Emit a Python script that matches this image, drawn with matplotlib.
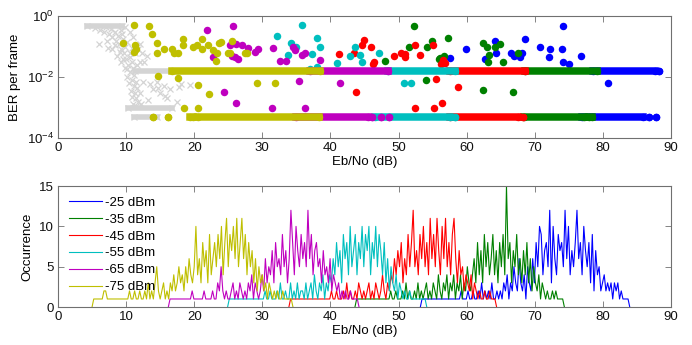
import matplotlib
matplotlib.use("Agg")
import matplotlib.pyplot as plt
from matplotlib.ticker import NullLocator
import numpy as np

plt.rcParams["font.family"] = ["Liberation Sans", "DejaVu Sans"]
plt.rcParams["mathtext.default"] = "regular"

# series, MATLAB colour order (-25 dBm first)
labels = ["-25 dBm", "-35 dBm", "-45 dBm", "-55 dBm", "-65 dBm", "-75 dBm"]
colors = ["#0000ff", "#008000", "#ff0000", "#00bfbf", "#bf00bf", "#bfbf00"]
gray = "#d4d4d4"

# ---------------- top panel: BER per frame ----------------
ber_hi = 0.0158   # upper dense row
ber_lo = 4.8e-4   # lower dense row

# dense rows of points, read as (start, end) in dB
hi_rows = [
    [(78.5, 87.6), (88.2, 88.2)],
    [(68.6, 79.1)],
    [(57.5, 68.6)],
    [(48.5, 58.3)],
    [(37.0, 48.4)],
    [(16.7, 38.5)],
]
lo_rows = [
    [(77.0, 85.9), (86.8, 86.8), (87.8, 87.8)],
    [(68.4, 77.3), (77.9, 78.4)],
    [(57.5, 67.5), (68.3, 68.3)],
    [(46.5, 57.6), (58.3, 58.3)],
    [(35.0, 45.5), (46.1, 46.1), (47.4, 47.4), (48.6, 48.6)],
    [(13.9, 13.9), (16.1, 16.1), (19.4, 19.8), (20.5, 38.3)],
]

# scattered frames (Eb/No, BER)
blue_pts = [(59.9, 0.081), (57.6, 0.043), (62.7, 0.038), (64.2, 0.155), (64.3, 0.063),
            (66.5, 0.063), (66.9, 0.049), (67.9, 0.047), (68.2, 0.063), (68.6, 0.176),
            (70.8, 0.099), (72.2, 0.081), (72.1, 0.047), (74.2, 0.47), (74.0, 0.081),
            (74.2, 0.03), (75.1, 0.026), (76.8, 0.05), (80.8, 0.0065)]
green_pts = [(52.3, 0.47), (51.6, 0.093), (54.9, 0.155), (54.2, 0.099), (57.3, 0.185),
             (56.7, 0.049), (56.0, 0.038), (56.1, 0.043), (48.0, 0.034), (54.0, 0.0081),
             (62.4, 0.0037), (62.4, 0.133), (63.0, 0.099), (64.2, 0.099), (64.9, 0.118),
             (63.3, 0.053), (63.2, 0.032), (65.3, 0.03), (67.6, 0.06), (66.8, 0.0032)]
red_pts = [(41.3, 0.055), (43.5, 0.063), (44.9, 0.16), (44.7, 0.11), (46.0, 0.099),
           (46.4, 0.032), (46.2, 0.027), (49.4, 0.05), (50.4, 0.063), (51.0, 0.055),
           (51.0, 0.047), (52.4, 0.11), (53.2, 0.053), (55.1, 0.11), (55.5, 0.0084),
           (58.7, 0.0046), (43.7, 0.0033), (52.4, 9.3e-4), (55.2, 9.3e-4), (56.4, 0.0014),
           (56.6, 0.036), (56.8, 0.028), (56.3, 0.027)]
cyan_pts = [(35.9, 0.5), (32.1, 0.22), (34.2, 0.127), (35.0, 0.099), (38.1, 0.185),
            (38.5, 0.093), (33.8, 0.053), (37.3, 0.055), (37.0, 0.019), (38.0, 0.022),
            (43.6, 0.093), (42.9, 0.05), (44.3, 0.053), (44.7, 0.03), (41.0, 0.028),
            (47.2, 0.06), (50.8, 0.0065), (51.8, 0.0065)]
magenta_pts = [(21.9, 0.35), (25.7, 0.48), (25.3, 0.11), (26.1, 0.12), (27.0, 0.11),
               (25.5, 0.05), (27.9, 0.09), (22.8, 0.047), (26.5, 0.038), (26.0, 0.047),
               (24.4, 0.0033), (26.2, 0.0014), (28.9, 0.068), (29.4, 0.08), (31.6, 0.087),
               (32.6, 0.034), (33.5, 0.034), (34.5, 0.099), (34.8, 0.077), (35.8, 0.053),
               (36.3, 0.06), (38.5, 0.036), (35.4, 0.0076), (41.4, 0.0065), (31.4, 9.3e-4),
               (36.2, 9.3e-4)]
olive_pts = [(9.6, 0.127), (11.1, 0.5), (11.2, 0.068), (11.3, 0.11), (11.5, 0.08),
             (13.4, 0.48), (13.8, 0.26), (14.5, 0.127), (14.5, 0.06), (14.7, 0.0108),
             (15.6, 0.08), (16.7, 0.08), (17.0, 0.06), (17.6, 0.063), (17.6, 0.0095),
             (18.3, 0.17), (18.3, 0.11), (18.5, 9.3e-4), (19.8, 0.093), (20.4, 0.11),
             (20.5, 9.3e-4), (20.6, 0.0055), (21.1, 0.17), (21.1, 0.08), (22.0, 0.11),
             (22.2, 0.0027), (22.8, 0.075), (23.2, 0.033), (23.3, 0.06), (23.7, 0.13),
             (24.0, 0.14), (24.9, 0.06), (25.3, 0.06), (25.6, 0.15), (27.4, 0.06),
             (27.7, 0.063), (29.2, 0.0065), (31.9, 0.0065)]
scatter_pts = [blue_pts, green_pts, red_pts, cyan_pts, magenta_pts, olive_pts]

# grey crosses (reference curve)
gray_rows = [(4.2, 9.4, 0.47), (11.3, 17.2, ber_hi), (10.3, 16.7, 9.3e-4), (11.1, 14.5, ber_lo)]
gray_pts = [(5.5, 0.4), (6.2, 0.35), (6.8, 0.3), (7.0, 0.42), (7.5, 0.25), (7.8, 0.38),
            (8.0, 0.2), (8.3, 0.3), (8.5, 0.15), (8.8, 0.22), (9.0, 0.12), (9.2, 0.35),
            (9.3, 0.08), (9.5, 0.18), (9.7, 0.06), (9.9, 0.1), (10.0, 0.04), (10.2, 0.14),
            (10.3, 0.025), (10.5, 0.06), (10.6, 0.015), (10.8, 0.03), (10.9, 0.008),
            (11.0, 0.02), (11.1, 0.005), (11.2, 0.012), (11.3, 0.003), (11.4, 0.007),
            (11.5, 0.002), (11.6, 0.0045), (11.7, 0.0015), (12.0, 0.003), (12.3, 0.06),
            (12.6, 0.03), (13.0, 0.05), (13.5, 0.006), (14.0, 0.004), (14.5, 0.007),
            (15.0, 0.003), (15.5, 0.005), (16.0, 0.002), (16.5, 0.004), (17.5, 0.0015),
            (18.0, 0.006), (6.0, 0.12), (7.2, 0.15), (8.0, 0.08), (8.7, 0.05), (9.3, 0.03),
            (9.8, 0.02), (10.2, 0.01), (10.7, 0.0035), (11.8, 0.08), (12.0, 0.12),
            (11.0, 0.2), (10.5, 0.3), (9.8, 0.45), (12.5, 0.007), (14.7, 0.0042),
            (15.7, 0.0023), (17.7, 0.0048), (19.4, 0.0055), (12.0, 0.032), (11.3, 0.06),
            (8.4, 0.11), (9.1, 0.065), (9.6, 0.04), (10.1, 0.018), (10.4, 0.0065),
            (10.8, 0.0022), (11.0, 0.0013), (11.5, 0.0011), (10.6, 0.045), (9.4, 0.25),
            (10.9, 0.09), (11.6, 0.025), (12.2, 0.0013), (13.2, 0.0018), (7.4, 0.09)]

# ---------------- bottom panel: occurrence histograms ----------------
step = 0.25  # dB per bin
starts = [53.2, 43.6, 33.9, 24.9, 16.2, 5.0]
occ_25 = [0, 1, 1, 1, 1, 1, 1, 1, 1, 1, 1, 1, 1, 1, 1, 1, 1, 1, 1, 1,
          1, 1, 1, 1, 2, 1, 1, 1, 2, 1, 1, 2, 1, 1, 2, 1, 3, 1, 2, 1,
          2, 1, 3, 1, 1, 2, 1, 2, 1, 3, 2, 4, 1, 3, 2, 5, 3, 2, 6, 3,
          2, 4, 1, 5, 3, 2, 6, 3, 8, 5, 10, 9, 4, 7, 8, 5, 12, 3, 10, 6,
          4, 9, 7, 8, 5, 12, 6, 10, 4, 7, 5, 8, 12, 6, 8, 4, 10, 7, 5, 8,
          3, 9, 2, 7, 4, 5, 2, 3, 4, 2, 3, 2, 3, 1, 3, 2, 3, 1, 2, 1,
          1, 1, 1, 0]
occ_35 = [0, 1, 1, 1, 1, 1, 1, 1, 1, 1, 1, 1, 1, 1, 1, 1, 1, 1, 1, 1,
          1, 2, 1, 1, 2, 1, 1, 1, 2, 1, 3, 1, 2, 1, 1, 2, 1, 3, 1, 2,
          1, 2, 3, 1, 2, 1, 3, 2, 1, 4, 2, 1, 3, 2, 4, 1, 3, 2, 4, 1,
          3, 2, 4, 1, 3, 2, 5, 3, 2, 4, 6, 3, 8, 4, 7, 3, 9, 5, 8, 4,
          6, 9, 4, 7, 3, 8, 5, 9, 4, 15, 6, 8, 3, 7, 5, 9, 4, 6, 3, 7,
          4, 8, 3, 6, 2, 5, 3, 2, 4, 1, 3, 2, 1, 2, 1, 1, 2, 1, 2, 1,
          1, 1, 1, 0]
occ_45 = [0, 1, 1, 1, 1, 1, 1, 1, 1, 1, 1, 1, 1, 1, 1, 1, 1, 1, 1, 1,
          1, 1, 1, 1, 1, 2, 1, 1, 2, 1, 1, 1, 2, 1, 3, 1, 2, 1, 1, 2,
          1, 3, 2, 1, 2, 1, 2, 3, 1, 2, 1, 3, 2, 1, 2, 4, 2, 1, 3, 2,
          4, 3, 6, 4, 7, 5, 8, 3, 6, 4, 9, 5, 8, 12, 5, 7, 4, 9, 6, 10,
          5, 8, 4, 11, 6, 9, 5, 11, 7, 4, 10, 6, 11, 5, 8, 4, 9, 11, 6, 3,
          7, 4, 5, 2, 4, 3, 2, 4, 1, 3, 2, 1, 2, 1, 1, 2, 1, 1, 2, 1,
          1, 1, 0]
occ_55 = [0, 1, 1, 1, 1, 1, 1, 1, 1, 1, 1, 1, 1, 1, 1, 1, 1, 1, 1, 1,
          1, 1, 2, 1, 1, 2, 1, 1, 1, 2, 1, 3, 1, 1, 2, 1, 1, 3, 1, 2,
          1, 3, 1, 2, 2, 1, 3, 1, 2, 3, 1, 4, 2, 1, 3, 2, 4, 1, 3, 2,
          4, 3, 6, 4, 8, 5, 7, 3, 9, 6, 8, 4, 10, 5, 7, 9, 4, 8, 6, 10,
          5, 9, 7, 10, 4, 8, 6, 10, 5, 9, 7, 4, 8, 3, 6, 2, 5, 3, 2, 4,
          1, 3, 2, 1, 2, 1, 1, 2, 1, 1, 1, 1, 1, 1, 1, 1, 1, 0]
occ_65 = [0, 1, 1, 1, 1, 1, 1, 1, 1, 1, 1, 1, 1, 1, 2, 1, 1, 1, 1, 1,
          1, 2, 1, 1, 1, 1, 2, 1, 1, 3, 2, 5, 2, 1, 2, 1, 1, 2, 3, 1,
          2, 1, 3, 2, 1, 2, 1, 3, 2, 4, 1, 3, 2, 1, 2, 4, 2, 6, 3, 5,
          4, 7, 3, 8, 5, 6, 4, 9, 5, 7, 3, 6, 12, 8, 4, 10, 7, 5, 9, 6,
          8, 5, 12, 6, 9, 4, 7, 8, 5, 6, 3, 7, 4, 5, 3, 6, 2, 4, 3, 2,
          3, 1, 2, 1, 2, 1, 1, 2, 1, 1, 1, 1, 0]
occ_75 = [0, 1, 1, 1, 1, 1, 1, 2, 2, 1, 1, 1, 1, 1, 1, 1, 1, 1, 1, 1,
          1, 1, 2, 1, 1, 2, 1, 1, 2, 1, 1, 2, 1, 3, 1, 2, 1, 3, 5, 2,
          1, 2, 3, 1, 2, 1, 3, 2, 4, 2, 3, 5, 3, 4, 2, 5, 3, 6, 4, 3,
          5, 10, 4, 6, 3, 8, 5, 7, 3, 9, 4, 6, 8, 5, 9, 6, 10, 4, 8, 11,
          5, 9, 7, 10, 6, 11, 5, 8, 11, 6, 9, 4, 8, 5, 7, 3, 6, 2, 5, 3,
          4, 2, 3, 1, 3, 2, 1, 2, 1, 2, 1, 1, 2, 1, 1, 1, 1, 1, 0]
occurrences = [occ_25, occ_35, occ_45, occ_55, occ_65, occ_75]

# Figure with two stacked panels (positions match the original layout)
fig = plt.figure(figsize=(6.92, 3.45), dpi=100)
ax1 = fig.add_axes([0.0838, 0.600, 0.8858, 0.3536])
ax2 = fig.add_axes([0.0838, 0.110, 0.8858, 0.3507])

# top panel
for x0, x1, b in gray_rows:
    ax1.plot([x0, x1], [b, b], color=gray, lw=4.0, marker="x", ms=4.5, mew=0.9)
gx, gy = zip(*gray_pts)
ax1.plot(gx, gy, "x", color=gray, ms=4.5, mew=0.9)

for i, c in enumerate(colors):
    for x0, x1 in hi_rows[i]:
        ax1.plot([x0, x1], [ber_hi, ber_hi], color=c, lw=5.4, marker="o", ms=5.4, mew=0)
    for x0, x1 in lo_rows[i]:
        ax1.plot([x0, x1], [ber_lo, ber_lo], color=c, lw=5.4, marker="o", ms=5.4, mew=0)
    px, py = zip(*scatter_pts[i])
    ax1.plot(px, py, "o", color=c, ms=5.4, mew=0)

ax1.set_yscale("log")
ax1.set_ylim(1e-4, 1)
ax1.set_yticks([1e-4, 1e-2, 1])
ax1.yaxis.set_minor_locator(NullLocator())
ax1.set_ylabel("BER per frame", fontsize=9.5, labelpad=4)

# bottom panel
for i, c in enumerate(colors):
    counts = occurrences[i]
    x = starts[i] + step * np.arange(len(counts))
    ax2.plot(x, counts, color=c, lw=0.8, label=labels[i])

ax2.set_ylim(0, 15)
ax2.set_yticks([0, 5, 10, 15])
ax2.set_ylabel("Occurrence", fontsize=9.5, labelpad=4)
ax2.legend(loc="upper left", frameon=False, fontsize=9.5, handlelength=2.5,
           handletextpad=0.25, labelspacing=0.35, borderaxespad=0.4)

for ax in (ax1, ax2):
    ax.set_xlim(0, 90)
    ax.set_xticks(range(0, 91, 10))
    ax.set_xlabel("Eb/No (dB)", fontsize=9.5, labelpad=1)
    ax.tick_params(direction="in", top=True, right=True, length=4, width=0.6,
                   color="#707070", labelcolor="#111111", labelsize=9.5, pad=3)
    for s in ax.spines.values():
        s.set_color("#707070")
        s.set_linewidth(0.8)

fig.savefig("out.png", dpi=100)
